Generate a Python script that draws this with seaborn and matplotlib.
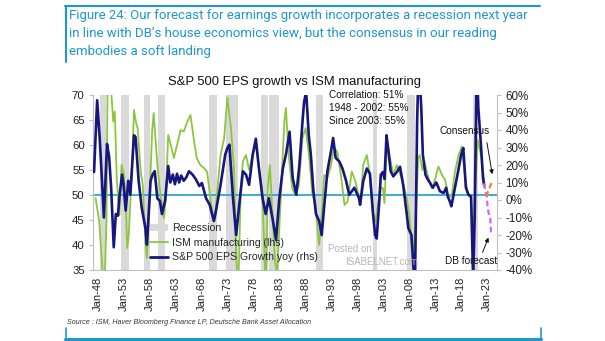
import numpy as np
import pandas as pd
import matplotlib
matplotlib.use("Agg")
import matplotlib.pyplot as plt
import seaborn as sns
from matplotlib.patches import Patch
from matplotlib.lines import Line2D

# ---------------- data (decimal years) ----------------
eps_year = [1947.2, 1947.8, 1948.3, 1949.1, 1949.7, 1950.1, 1950.5, 1951.0, 1951.4, 1951.8,
            1952.1, 1952.6, 1952.9, 1953.3, 1953.8, 1954.2, 1954.9, 1955.2, 1955.8, 1956.4,
            1957.1, 1957.4, 1958.1, 1958.5, 1958.9, 1959.4, 1959.9, 1960.3, 1960.9, 1961.5,
            1961.9, 1962.4, 1962.8, 1963.2, 1963.6, 1964.0, 1964.5, 1965.0, 1965.5, 1966.2,
            1966.8, 1967.5, 1968.0, 1968.8, 1969.5, 1970.3, 1970.6, 1971.6, 1972.5, 1972.9,
            1973.3, 1974.0, 1974.6, 1975.2, 1975.9, 1976.5, 1977.1, 1977.8, 1978.4, 1979.0,
            1979.7, 1980.3, 1980.9, 1981.7, 1982.3, 1982.9, 1983.6, 1984.2, 1984.9, 1985.5,
            1986.2, 1986.8, 1987.4, 1987.7, 1988.1, 1988.6, 1989.0, 1989.5, 1990.0, 1990.6,
            1991.1, 1991.6, 1992.2, 1992.9, 1993.3, 1993.8, 1994.5, 1995.1, 1995.8, 1996.4,
            1997.4, 1998.3, 1998.5, 1999.1, 1999.8, 2000.4, 2001.0, 2001.4, 2001.7, 2002.2,
            2002.5, 2002.9, 2003.2, 2003.6, 2003.9, 2004.4, 2004.9, 2005.6, 2006.2, 2006.8,
            2007.5, 2007.8, 2008.4, 2008.8, 2009.1, 2009.5, 2009.8, 2010.3, 2010.6, 2011.1,
            2011.5, 2012.0, 2012.5, 2013.2, 2013.9, 2014.6, 2015.1, 2015.4, 2015.8, 2016.1,
            2016.8, 2017.4, 2018.0, 2018.4, 2018.9, 2019.4, 2019.9, 2020.3, 2020.6, 2021.0,
            2021.3, 2021.8, 2022.2, 2022.4]
eps_growth = [16, 57, 35, -10, 32, 25, 7, -27, -8, -9,
              2, 14.5, 8.7, -6, 11, 3, 37, 36, 11, -4.6,
              -16, -25.5, 11, 14.6, 16.5, 1, -0.6, -8, -0.5, 19.4,
              10, 14.5, 9, 15, 10, 14, 11, 13, 16.4, 14.5,
              12, 8, 9.7, 1, -2.7, -12, -8, 8.7, 26, 29.7,
              31.6, 1, -20, -2.7, 16.4, 14.5, 8.7, 26, 35, 18,
              1, -8, 1, -12, -22.7, 0, 18, 26, 39, 12.6,
              3, 20, 45, 56, 62, 37, 26, 5, -8, -12,
              -20, -2.7, 16.4, 28, 35.4, 24, 22, 18, 11, 3,
              7, 1, -2.7, 10.7, 18, 15, -8, -20, -22, -0.8,
              14.5, 16, 12, 37, 29.7, 16.4, 13.5, 16, 19, 8.7,
              -8, -16, -20, -39, -45, 45, 80, 52.6, 26, 14.5,
              12, 9.7, 7, 10, 5, 4, 7, 2, -0.8, -3.6,
              7, 16.4, 26, 29.7, 7, 3, 2, -45, -10, 80,
              52.6, 31.6, 12.6, 8.7]

ism_year = [1947.5, 1948.2, 1948.8, 1949.2, 1949.6, 1949.8, 1950.3, 1950.9, 1951.2, 1951.6,
            1952.1, 1952.5, 1952.9, 1953.3, 1953.6, 1953.9, 1954.6, 1954.9, 1955.3, 1955.6,
            1956.2, 1956.6, 1957.1, 1957.4, 1957.9, 1958.4, 1958.7, 1959.4, 1960.0, 1960.7,
            1961.0, 1961.5, 1962.0, 1962.6, 1963.2, 1963.9, 1964.5, 1965.2, 1965.8, 1966.5,
            1967.0, 1967.7, 1968.3, 1969.0, 1969.7, 1970.4, 1970.9, 1971.6, 1972.3, 1972.9,
            1973.6, 1974.2, 1974.6, 1975.0, 1975.5, 1975.9, 1976.5, 1977.1, 1977.8, 1978.4,
            1979.0, 1979.7, 1980.3, 1980.7, 1981.1, 1981.6, 1982.1, 1982.5, 1983.3, 1983.9,
            1984.2, 1984.7, 1985.4, 1986.0, 1986.7, 1987.4, 1988.0, 1988.7, 1989.3, 1989.8,
            1990.6, 1991.0, 1991.6, 1992.2, 1992.8, 1993.5, 1994.1, 1994.8, 1995.5, 1996.1,
            1996.9, 1997.6, 1998.3, 1998.6, 1999.1, 1999.8, 2000.3, 2000.9, 2001.5, 2002.0,
            2002.4, 2002.9, 2003.2, 2003.7, 2004.3, 2004.9, 2005.6, 2006.3, 2006.9, 2007.5,
            2008.0, 2008.4, 2008.8, 2009.3, 2009.7, 2010.0, 2010.5, 2010.9, 2011.7, 2012.4,
            2013.0, 2013.6, 2014.3, 2014.9, 2015.6, 2016.2, 2016.8, 2017.5, 2018.1, 2018.7,
            2019.3, 2019.9, 2020.3, 2020.6, 2021.2, 2021.8, 2022.2, 2022.6]
ism_value = [49.4, 44.7, 35.4, 31, 45, 72, 74, 64.7, 66.7, 52.7,
             46, 56, 54.5, 48.7, 39.4, 42, 57.4, 67, 64.5, 63.4,
             54.7, 52, 40.7, 37.4, 49, 62.7, 66.4, 56, 50, 45.4,
             49, 62, 60, 57.4, 60, 63, 62.7, 64.7, 66, 60.7,
             57.4, 56, 55.5, 54.7, 48.7, 44.7, 50, 58, 61.4, 69.5,
             63.4, 55, 38, 30.7, 51.4, 56.7, 58, 55, 58, 60,
             55.7, 50, 30, 51.4, 56, 46, 36.7, 34, 51.4, 64.7,
             67.4, 58.4, 51.4, 50, 52, 61.4, 63.4, 57.5, 50, 48.6,
             40, 44.5, 54, 53.5, 55.5, 59.4, 58.7, 54, 48, 48.7,
             54.7, 52.7, 49.4, 48.7, 56, 58, 54.7, 46.7, 44.7, 48.7,
             51.4, 51.4, 48.4, 60.7, 57.4, 54, 56, 54, 52, 49.4,
             46, 40.7, 38, 47.4, 57.4, 58, 55, 56.7, 53.3, 51.4,
             53.3, 55.7, 54, 53, 49.4, 50, 54.7, 58, 59.7, 54,
             50, 49.4, 40.7, 50, 61, 58, 54.7, 51.4]

consensus_year = [2022.8, 2024.0]
consensus_value = [2, 11]
db_year = [2022.3, 2022.9, 2023.1, 2023.4, 2023.6, 2023.75]
db_value = [9.5, 2, -4, -9.5, -10, -19]

recession_start = [1948.3, 1952.4, 1956.9, 1959.6, 1969.4, 1972.7, 1979.4, 1980.9, 1990.0, 2001.0, 2007.5, 2020.3]
recession_end   = [1949.5, 1954.0, 1958.0, 1960.9, 1970.9, 1975.0, 1980.8, 1982.9, 1991.4, 2001.8, 2009.1, 2021.2]

tick_years = list(range(1948, 2024, 5))
tick_labels = ["Jan-%02d" % (y % 100) for y in tick_years]
lhs_ticks = [35, 40, 45, 50, 55, 60, 65, 70]
rhs_ticks = [-40, -30, -20, -10, 0, 10, 20, 30, 40, 50, 60]

caption = ["Figure 24: Our forecast for earnings growth incorporates a recession next year",
           "in line with DB\u2019s house economics view, but the consensus in our reading",
           "embodies a soft landing"]
chart_title = "S&P 500 EPS growth vs ISM manufacturing"
corr_text = ["Correlation: 51%", "1948 - 2002: 55%", "Since 2003: 55%"]
source_text = "Source : ISM, Haver Bloomberg Finance LP, Deutsche Bank Asset Allocation"

# ---------------- style ----------------
sns.set_theme(style="white")
plt.rcParams['font.family'] = ['Liberation Sans', 'DejaVu Sans']

GREEN = '#8cc63e'
NAVY = '#16167e'
CYAN = '#2aa7dc'
REC = '#d9d9d9'
BLUE = '#1e96d2'
SPINE = '#bfbfbf'

W, H = 605, 341
fig = plt.figure(figsize=(W / 100, H / 100), dpi=100)
fig.patch.set_facecolor('white')

def fx(px):
    return px / W

def fy(py):
    return 1 - py / H

ax = fig.add_axes([fx(93), fy(270), fx(497) - fx(93), fy(95) - fy(270)])
ax2 = ax.twinx()

for s, e in zip(recession_start, recession_end):
    ax.axvspan(s, e, color=REC, lw=0, zorder=0)

ax.axhline(50, color=CYAN, lw=1.3, zorder=1)

ism_df = pd.DataFrame({"year": ism_year, "ism": ism_value})
eps_df = pd.DataFrame({"year": eps_year, "eps": eps_growth})
cons_df = pd.DataFrame({"year": consensus_year, "v": consensus_value})
db_df = pd.DataFrame({"year": db_year, "v": db_value})

sns.lineplot(data=ism_df, x="year", y="ism", ax=ax, color=GREEN, lw=1.3, zorder=2)
sns.lineplot(data=eps_df, x="year", y="eps", ax=ax2, color=NAVY, lw=1.9, zorder=3)
sns.lineplot(data=db_df, x="year", y="v", ax=ax2, color='#cc66ff', lw=1.6,
             linestyle=(0, (2.5, 1.5)), zorder=3)
sns.lineplot(data=cons_df, x="year", y="v", ax=ax2, color='#f58220', lw=1.6,
             linestyle=(0, (2.5, 1.5)), zorder=3)

ax.set_xlim(1947.0, 2024.9)
ax.set_ylim(35, 70)
ax2.set_ylim(-40, 60)
ax.set_xlabel("")
ax.set_ylabel("")
ax2.set_ylabel("")

ax.set_xticks(tick_years)
ax.set_xticklabels(tick_labels, rotation=90)
ax.set_yticks(lhs_ticks)
ax.set_yticklabels([str(v) for v in lhs_ticks])
ax2.set_yticks(rhs_ticks)
ax2.set_yticklabels(["%d%%" % v for v in rhs_ticks])

for a in (ax, ax2):
    a.spines["top"].set_visible(False)
    for side in ("left", "right", "bottom"):
        a.spines[side].set_color(SPINE)
        a.spines[side].set_linewidth(0.8)
ax.spines["right"].set_visible(False)
ax2.spines["left"].set_visible(False)
ax2.spines["bottom"].set_visible(False)

ax.tick_params(axis='x', length=3, width=0.8, color=SPINE, labelsize=8, pad=2, labelcolor='#222222')
ax.tick_params(axis='y', length=3, width=0.8, color=SPINE, labelsize=8.2, pad=3, labelcolor='#222222')
ax2.tick_params(axis='y', length=3, width=0.8, color=SPINE, labelsize=8.4, pad=3, labelcolor='#222222')

# legend
handles = [Patch(facecolor=REC, edgecolor='none'),
           Line2D([], [], color=GREEN, lw=1.3),
           Line2D([], [], color=NAVY, lw=2.0)]
labels = ["Recession", "ISM manufacturing (lhs)", "S&P 500 EPS Growth yoy (rhs)"]
leg = fig.legend(handles, labels, loc='upper left', bbox_to_anchor=(fx(150), fy(223)),
                 frameon=False, fontsize=7.6, handlelength=1.7, handleheight=0.7,
                 handletextpad=0.4, labelspacing=0.45, borderpad=0, borderaxespad=0)

# annotations inside chart
for i, t in enumerate(corr_text):
    fig.text(fx(329), fy(95 + 13 * i), t, fontsize=7.2, color='#111111', va='center', ha='left')

fig.text(fx(440), fy(131.5), "Consensus", fontsize=7.2, color='#111111', va='center', ha='left')
fig.text(fx(445), fy(260.5), "DB forecast", fontsize=7.2, color='#111111', va='center', ha='left')
fig.add_artist(matplotlib.patches.FancyArrowPatch((fx(486.5), fy(140)), (fx(492.7), fy(177)),
               transform=fig.transFigure, arrowstyle='-|>', mutation_scale=6, lw=0.7, color='#111111'))
fig.add_artist(matplotlib.patches.FancyArrowPatch((fx(481.5), fy(255)), (fx(489.5), fy(235)),
               transform=fig.transFigure, arrowstyle='-|>', mutation_scale=6, lw=0.7, color='#111111'))

# watermark
fig.text(fx(328), fy(249), "Posted on", fontsize=7, color='#b5b5b5', va='center', ha='left')
fig.text(fx(345), fy(262), "ISABELNET.com", fontsize=7, color='#b5b5b5', va='center', ha='left')

# chart title
fig.text(fx(294), fy(81.5), chart_title, fontsize=9.4, color='#111111', va='center', ha='center')

# caption
for i, t in enumerate(caption):
    fig.text(fx(69), fy(16 + 18 * i), t, fontsize=9.5, color=BLUE, va='center', ha='left',
             family=['Roboto', 'DejaVu Sans'])
fig.add_artist(Line2D([fx(65), fx(540)], [fy(5.5), fy(5.5)], transform=fig.transFigure, color=BLUE, lw=1.5))
fig.add_artist(Line2D([fx(65.5), fx(65.5)], [fy(5.5), fy(62)], transform=fig.transFigure, color=BLUE, lw=1.5))

# source + bottom frame
fig.text(fx(67), fy(323), source_text, fontsize=5.1, style='italic', color='#333333', va='center', ha='left')
fig.add_artist(Line2D([fx(65), fx(541)], [fy(338.5), fy(338.5)], transform=fig.transFigure, color=BLUE, lw=2.2))
fig.add_artist(Line2D([fx(65.5), fx(65.5)], [fy(328), fy(339)], transform=fig.transFigure, color=BLUE, lw=1.2))
fig.add_artist(Line2D([fx(540.5), fx(540.5)], [fy(328), fy(339)], transform=fig.transFigure, color=BLUE, lw=1.2))

fig.savefig("out.png", dpi=100, facecolor='white')
